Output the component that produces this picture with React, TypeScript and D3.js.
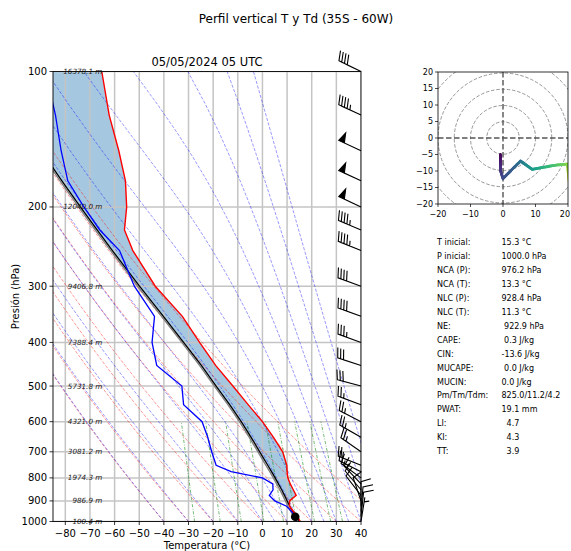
import React from 'react';
import * as d3 from 'd3';

// ---------------- data ----------------
const levels = [1000, 975, 950, 925, 900, 875, 850, 825, 800, 775, 750, 700, 650, 600, 550, 500, 450, 400, 350, 300, 250, 225, 200, 175, 150, 125, 100];
const temperature = [15.3, 14.3, 12.6, 11.0, 11.0, 13.7, 12.5, 11.3, 10.3, 10.0, 9.9, 8.2, 4.5, 0.0, -5.8, -12.0, -19.0, -25.5, -32.5, -43.5, -52.6, -56.0, -55.1, -55.6, -58.3, -62.2, -65.2];
const dewpoint = [13.7, 13.3, 11.8, 9.8, 5.0, 2.8, 4.3, 4.2, 0.0, -12.7, -18.8, -20.6, -22.2, -24.5, -32.0, -32.7, -42.9, -44.8, -43.8, -52.0, -58.0, -66.0, -72.5, -79.0, -81.7, -84.0, -88.0];
const parcelTemp = [15.3, 13.25, 12.25, 11.1, 10.05, 8.95, 7.8, 6.5, 5.15, 3.7, 2.15, -1.1, -4.6, -8.6, -13.3, -18.8, -24.8, -32.0, -40.2, -49.9, -60.9, -67.1, -73.9, -81.4, -89.7, -99.0, -109.7];
const windU = [-0.8, -0.8, -0.8, 0.0, 3.1, 5.4, 6.7, 9.0, 12.3, 16.4, 19.8, 20.5, 21.7, 22.3, 23.5, 29.0, 28.5, 32.9, 37.6, 37.6, 41.7, 41.4, 45.3, 45.3, 45.3, 40.8, 36.0];
const windV = [-5.0, -7.5, -9.8, -12.3, -9.2, -7.0, -7.9, -9.5, -8.9, -8.2, -7.9, -14.3, -12.5, -11.4, -8.6, -7.8, -9.3, -12.0, -13.7, -13.7, -16.9, -17.6, -21.1, -21.1, -21.1, -19.0, -17.5];
const hodoHeights = [100.4, 320, 545, 770, 986.9, 1215, 1450, 1705, 1974.3, 2240, 2515, 3081.2];

const heightLevels = [100, 200, 300, 400, 500, 600, 700, 800, 900, 1000];
const heightLabels = ['16378.1 m', '12040.0 m', '9406.8 m', '7388.4 m', '5731.8 m', '4321.0 m', '3081.2 m', '1974.3 m', '986.9 m', '100.4 m'];

const tempTicks = [-80, -70, -60, -50, -40, -30, -20, -10, 0, 10, 20, 30, 40];
const pressTicks = [100, 200, 300, 400, 500, 600, 700, 800, 900, 1000];
const hodoTicksY = [20, 15, 10, 5, 0, -5, -10, -15, -20];
const hodoTicksX = [-20, -10, 0, 10, 20];
const hodoRings = [5, 10, 15, 20, 25];

const dryT0 = [-40, -30, -20, -10, 0, 10, 20, 30, 40, 50];
const moistT0 = [-40, -30, -20, -10, 0, 5, 10, 15, 20, 25, 30, 35, 40, 45, 50];
const mixingRatios = [0.0004, 0.001, 0.002, 0.004, 0.007, 0.01, 0.016, 0.024, 0.032];

const lclPressure = 976.2;
const lclTemp = 13.3;

const statLabels = ['T inicial:', 'P inicial:', 'NCA (P):', 'NCA (T):', 'NLC (P):', 'NLC (T):', 'NE:', 'CAPE:', 'CIN:', 'MUCAPE:', 'MUCIN:', 'Pm/Tm/Tdm:', 'PWAT:', 'LI:', 'KI:', 'TT:'];
const statValues = ['15.3 °C', '1000.0 hPa', '976.2 hPa', '13.3 °C', '928.4 hPa', '11.3 °C', ' 922.9 hPa', ' 0.3 J/kg', '-13.6 J/kg', ' 0.0 J/kg', '0.0 J/kg', '825.0/11.2/4.2', '19.1 mm', '  4.7', '  4.3', '  3.9'];

// ---------------- layout ----------------
const W = 571, H = 551;
const PL = 53, PR = 361, PT = 71.5, PB = 521.5;
const HL = 438, HR = 568, HT = 72, HB = 204;
const FONT = 'DejaVu Sans, Liberation Sans, sans-serif';

const x = d3.scaleLinear().domain([-85, 40]).range([PL, PR]);
const y = d3.scaleLog().domain([100, 1000]).range([PT, PB]);
const hx = d3.scaleLinear().domain([-20, 20]).range([HL, HR]);
const hy = d3.scaleLinear().domain([-20, 20]).range([HB, HT]);

const line = d3.line<[number, number]>().x(d => x(d[0])).y(d => y(d[1]));

// physics helpers for the background reference lines
const Rd = 287.04749, Cpd = 1004.6662, Lv = 2.50084e6, EPS = 0.6219569;
const satVap = (Tk: number) => 6.112 * Math.exp(17.67 * (Tk - 273.15) / (Tk - 29.65));
const dTdp = (p: number, T: number) => {
  const es = satVap(T);
  const rs = EPS * es / (p - es);
  return (Rd * T + Lv * rs) / (Cpd + (Lv * Lv * rs * EPS) / (Rd * T * T)) / p;
};
const pressGrid = d3.range(50).map(i => 1000 - i * (900 / 49));
const mixGrid = d3.range(30).map(i => 1000 - i * (400 / 29));

function dryLine(t0: number): [number, number][] {
  return pressGrid.map(p => [(t0 + 273.15) * Math.pow(p / 1000, 0.2857) - 273.15, p]);
}
function moistLine(t0: number): [number, number][] {
  let T = t0 + 273.15;
  const out: [number, number][] = [[t0, 1000]];
  for (let i = 1; i < pressGrid.length; i++) {
    const p0 = pressGrid[i - 1], p1 = pressGrid[i];
    const n = 6, h = (p1 - p0) / n;
    let p = p0;
    for (let k = 0; k < n; k++) {
      const k1 = dTdp(p, T);
      const k2 = dTdp(p + h / 2, T + h / 2 * k1);
      const k3 = dTdp(p + h / 2, T + h / 2 * k2);
      const k4 = dTdp(p + h, T + h * k3);
      T += h / 6 * (k1 + 2 * k2 + 2 * k3 + k4);
      p += h;
    }
    out.push([T - 273.15, p1]);
  }
  return out;
}
function mixLine(w: number): [number, number][] {
  return mixGrid.map(p => {
    const e = p * w / (EPS + w);
    const v = Math.log(e / 6.112);
    return [243.5 * v / (17.67 - v), p];
  });
}

// matplotlib-style wind barb polygon
function barbPath(u: number, v: number, tx: number, ty: number, s: number) {
  const L = 7, spacing = L * 0.125, fh = L * 0.4, fw = L * 0.25;
  let mag = 5 * Math.round(Math.hypot(u, v) / 5);
  const nflags = Math.floor(mag / 50); mag -= nflags * 50;
  const nbarbs = Math.floor(mag / 10); mag -= nbarbs * 10;
  const half = mag >= 5;
  const verts: [number, number][] = [[0, 0]];
  let offset = L;
  for (let i = 0; i < nflags; i++) {
    if (offset !== L) offset += spacing / 2;
    verts.push([0, offset], [fh, offset - fw / 2], [0, offset - fw]);
    offset -= fw + spacing;
  }
  for (let i = 0; i < nbarbs; i++) {
    verts.push([0, offset], [fh, offset + fw / 2], [0, offset]);
    offset -= spacing;
  }
  if (half) {
    if (offset === L) { verts.push([0, offset]); offset -= 1.5 * spacing; }
    verts.push([0, offset], [fh / 2, offset + fw / 4], [0, offset]);
  }
  const a = Math.atan2(v, u) + Math.PI / 2;
  const ca = Math.cos(a), sa = Math.sin(a);
  const pts = verts.map(([X, Y]) => {
    const Xr = X * ca - Y * sa, Yr = X * sa + Y * ca;
    return [tx + Xr * s, ty - Yr * s];
  });
  return 'M' + pts.map(p => p[0].toFixed(2) + ',' + p[1].toFixed(2)).join('L') + 'Z';
}

export default function App() {
  const tPts: [number, number][] = levels.map((p, i) => [temperature[i], p]);
  const tdPts: [number, number][] = levels.map((p, i) => [dewpoint[i], p]);
  const parPts: [number, number][] = levels.map((p, i) => [parcelTemp[i], p]);

  const area = d3.area<number>()
    .y(i => y(levels[i]))
    .x0(i => x(parcelTemp[i]))
    .x1(i => x(temperature[i]));
  const areaPath = area(levels.map((_, i) => i)) || '';

  const nH = hodoHeights.length;
  const hMin = d3.min(hodoHeights) as number, hMax = d3.max(hodoHeights) as number;
  const cmap = (h: number) => d3.interpolateViridis((h - hMin) / (hMax - hMin));
  const hodoSegs: { x1: number; y1: number; x2: number; y2: number; c: string }[] = [];
  for (let i = 0; i < nH - 1; i++) {
    const sub = 8;
    for (let k = 0; k < sub; k++) {
      const f0 = k / sub, f1 = (k + 1) / sub;
      const u0 = windU[i] + (windU[i + 1] - windU[i]) * f0;
      const v0 = windV[i] + (windV[i + 1] - windV[i]) * f0;
      const u1 = windU[i] + (windU[i + 1] - windU[i]) * f1;
      const v1 = windV[i] + (windV[i + 1] - windV[i]) * f1;
      const hh = hodoHeights[i] + (hodoHeights[i + 1] - hodoHeights[i]) * (f0 + f1) / 2;
      hodoSegs.push({ x1: hx(u0), y1: hy(v0), x2: hx(u1), y2: hy(v1), c: cmap(hh) });
    }
  }

  const minus = (n: number) => (n < 0 ? '\u2212' + Math.abs(n) : String(n));

  return (
    <svg width={W} height={H} style={{ position: 'absolute', left: 0, top: 0, background: '#fff' }} fontFamily={FONT}>
      <defs>
        <clipPath id="skewClip"><rect x={PL} y={PT} width={PR - PL} height={PB - PT} /></clipPath>
        <clipPath id="hodoClip"><rect x={HL} y={HT} width={HR - HL} height={HB - HT} /></clipPath>
      </defs>
      <rect x={0} y={0} width={W} height={H} fill="#fff" />

      {/* titles */}
      <text x={296} y={23} fontSize={12} textAnchor="middle" fill="#000">Perfil vertical T y Td (35S - 60W)</text>
      <text x={(PL + PR) / 2} y={66} fontSize={11.5} textAnchor="middle" fill="#000">05/05/2024 05 UTC</text>

      <g clipPath="url(#skewClip)">
        <path d={areaPath} fill="rgb(165,200,224)" stroke="none" />
        {tempTicks.map(t => (
          <line key={'gx' + t} x1={x(t)} x2={x(t)} y1={PT} y2={PB} stroke="#c4c4c4" strokeWidth={1.5} />
        ))}
        {pressTicks.map(p => (
          <line key={'gy' + p} x1={PL} x2={PR} y1={y(p)} y2={y(p)} stroke="#c4c4c4" strokeWidth={1.5} />
        ))}
        {dryT0.map(t0 => (
          <path key={'d' + t0} d={line(dryLine(t0)) || ''} fill="none" stroke="red" strokeOpacity={0.45} strokeWidth={0.9} strokeDasharray="3.2,1.6" />
        ))}
        {moistT0.map(t0 => (
          <path key={'m' + t0} d={line(moistLine(t0)) || ''} fill="none" stroke="blue" strokeOpacity={0.45} strokeWidth={0.9} strokeDasharray="3.2,1.6" />
        ))}
        {mixingRatios.map(w => (
          <path key={'w' + w} d={line(mixLine(w)) || ''} fill="none" stroke="green" strokeOpacity={0.6} strokeWidth={0.9} strokeDasharray="3.2,1.6,0.8,1.6" />
        ))}
        <path d={line(parPts) || ''} transform="translate(-1.8,0)" fill="none" stroke="#808080" strokeWidth={1.4} />
        <path d={line(parPts) || ''} fill="none" stroke="#000" strokeWidth={1.3} />
        <path d={line(tdPts) || ''} fill="none" stroke="#0000ff" strokeWidth={1.3} />
        <path d={line(tPts) || ''} fill="none" stroke="#ff0000" strokeWidth={1.4} />
      </g>
      <circle cx={x(lclTemp)} cy={y(lclPressure)} r={4.3} fill="#000" />

      {/* height labels */}
      {heightLevels.map((p, i) => (
        <text key={'h' + p} x={x(-65)} y={y(p)} fontSize={7.2} fontStyle="italic" textAnchor="end" dominantBaseline="central" fill="#222">{heightLabels[i]}</text>
      ))}

      {/* frame and axes */}
      <rect x={PL} y={PT} width={PR - PL} height={PB - PT} fill="none" stroke="#000" strokeWidth={0.9} />
      {tempTicks.map(t => (
        <g key={'tx' + t}>
          <line x1={x(t)} x2={x(t)} y1={PB} y2={PB + 3.5} stroke="#000" strokeWidth={0.8} />
          <text x={x(t)} y={PB + 15} fontSize={10} textAnchor="middle" fill="#000">{minus(t)}</text>
        </g>
      ))}
      {pressTicks.map(p => (
        <g key={'ty' + p}>
          <line x1={PL - 3.5} x2={PL} y1={y(p)} y2={y(p)} stroke="#000" strokeWidth={0.8} />
          <text x={PL - 6} y={y(p)} fontSize={10} textAnchor="end" dominantBaseline="central" fill="#000">{p}</text>
        </g>
      ))}
      <text x={(PL + PR) / 2} y={549} fontSize={10} textAnchor="middle" fill="#000">Temperatura (°C)</text>
      <text transform={`translate(15,${(PT + PB) / 2}) rotate(-90)`} fontSize={10} textAnchor="middle" dominantBaseline="central" fill="#000">Presión (hPa)</text>

      {/* wind barbs */}
      {levels.map((p, i) => (
        <path key={'b' + p} d={barbPath(windU[i], windV[i], PR, y(p), 3.5)} fill="#000" stroke="#000" strokeWidth={1.1} strokeLinejoin="miter" />
      ))}

      {/* hodograph */}
      <g clipPath="url(#hodoClip)">
        {hodoRings.map(r => (
          <circle key={'r' + r} cx={hx(0)} cy={hy(0)} r={hx(r) - hx(0)} fill="none" stroke="#8a8a8a" strokeWidth={0.9} strokeDasharray="3.5,1.8" />
        ))}
        <line x1={HL} x2={HR} y1={hy(0)} y2={hy(0)} stroke="#555" strokeWidth={1.4} strokeDasharray="5.5,2.5" />
        <line x1={hx(0)} x2={hx(0)} y1={HT} y2={HB} stroke="#555" strokeWidth={1.4} strokeDasharray="5.5,2.5" />
        {hodoSegs.map((s, i) => (
          <line key={'hs' + i} x1={s.x1} y1={s.y1} x2={s.x2} y2={s.y2} stroke={s.c} strokeWidth={2.8} strokeLinecap="round" />
        ))}
      </g>
      <rect x={HL} y={HT} width={HR - HL} height={HB - HT} fill="none" stroke="#000" strokeWidth={0.8} />
      {hodoTicksY.map(t => (
        <g key={'hty' + t}>
          <line x1={HL - 3} x2={HL} y1={hy(t)} y2={hy(t)} stroke="#000" strokeWidth={0.7} />
          <text x={HL - 5} y={hy(t)} fontSize={8} textAnchor="end" dominantBaseline="central" fill="#000">{minus(t)}</text>
        </g>
      ))}
      {hodoTicksX.map(t => {
        const edge = hx(t) + 5 > W;
        return (
          <g key={'htx' + t}>
            <line x1={hx(t)} x2={hx(t)} y1={HB} y2={HB + 3} stroke="#000" strokeWidth={0.7} />
            <text x={edge ? W - 1 : hx(t)} y={HB + 13} fontSize={8} textAnchor={edge ? 'end' : 'middle'} fill="#000">{minus(t)}</text>
          </g>
        );
      })}

      {/* stats */}
      {statLabels.map((lab, i) => (
        <g key={'s' + i}>
          <text x={437} y={242.5 + i * 13.95} fontSize={8} dominantBaseline="central" fill="#000">{lab}</text>
          <text x={501.5} y={242.5 + i * 13.95} fontSize={8} dominantBaseline="central" fill="#000" style={{ whiteSpace: 'pre' }}>{statValues[i]}</text>
        </g>
      ))}
    </svg>
  );
}
